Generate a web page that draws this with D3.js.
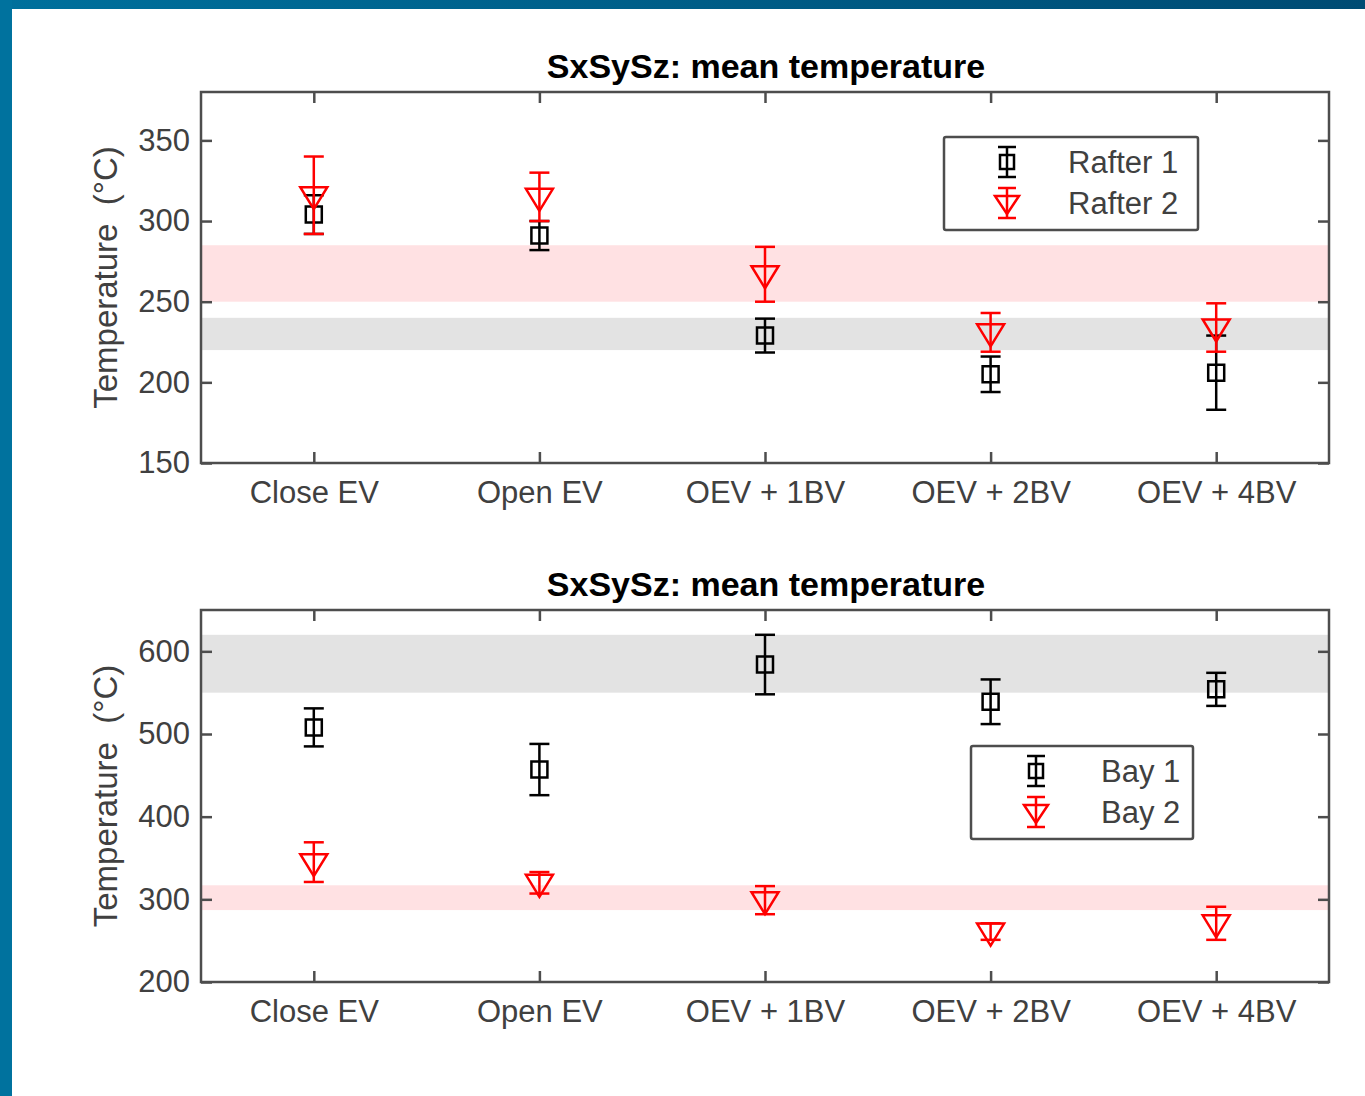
<!DOCTYPE html>
<html><head><meta charset="utf-8">
<script src="https://cdn.jsdelivr.net/npm/d3@7"></script>
<style>
html,body{margin:0;padding:0;background:#fff;}
svg{display:block;}
text{font-family:"Liberation Sans",Arial,sans-serif;}
</style></head>
<body>
<svg id="chart" width="1365" height="1096"></svg>
<script>
// ---------- data ----------
const categories = ["Close EV", "Open EV", "OEV + 1BV", "OEV + 2BV", "OEV + 4BV"];
const titleText = "SxSySz: mean temperature";
const yLabelText = "Temperature  (\u00B0C)";

const rafter1Mean = [304, 291, 229, 205, 206];
const rafter1Err  = [12, 9, 10.5, 11, 23];
const rafter2Mean = [316, 315, 267, 231, 234];
const rafter2Err  = [24, 15, 17, 12, 15];

const bay1Mean = [508, 457, 584, 539, 554];
const bay1Err  = [23, 31, 36, 27, 20];
const bay2Mean = [345, 320, 299, 261, 271];
const bay2Err  = [24, 13, 17, 10, 20];

const topTicks = [150, 200, 250, 300, 350];
const bottomTicks = [200, 300, 400, 500, 600];
const topBands = [{lo: 250, hi: 285, kind: "red"}, {lo: 220, hi: 240, kind: "black"}];
const bottomBands = [{lo: 550, hi: 620, kind: "black"}, {lo: 287, hi: 317, kind: "red"}];
const topLegend = ["Rafter 1", "Rafter 2"];
const bottomLegend = ["Bay 1", "Bay 2"];

// ---------- drawing ----------
const svg = d3.select("#chart");
const defs = svg.append("defs");
const grad = defs.append("linearGradient").attr("id", "bandGrad").attr("x1", "0").attr("x2", "1");
grad.append("stop").attr("offset", "0").attr("stop-color", "#00709c");
grad.append("stop").attr("offset", "1").attr("stop-color", "#004b73");
svg.append("rect").attr("x", 0).attr("y", 0).attr("width", 1365).attr("height", 9).attr("fill", "url(#bandGrad)");
svg.append("rect").attr("x", 0).attr("y", 0).attr("width", 12).attr("height", 1096).attr("fill", "#00729e");

const COLORS = {black: "#000000", red: "#ff0000"};
const BANDFILL = {black: "#e3e3e3", red: "#ffe1e3"};
const AXIS = "#4d4d4d";
const TXT = "#404040";
const FS = "31px";

function markerPath(kind) {
  if (kind === "black") return "M-8,-8H8V8H-8Z";
  return "M-13.5,-8H13.5L0,14Z";
}

function panel(cfg) {
  const x = d3.scaleLinear().domain([0.5, 5.5]).range([201, 1329]);
  const y = d3.scaleLinear().domain(cfg.domain).range([cfg.bottom, cfg.top]);
  const g = svg.append("g");

  // bands
  g.selectAll("rect.band").data(cfg.bands).join("rect")
    .attr("x", x(0.5)).attr("width", x(5.5) - x(0.5))
    .attr("y", d => y(d.hi)).attr("height", d => y(d.lo) - y(d.hi))
    .attr("fill", d => BANDFILL[d.kind]);

  // axes
  const fmt = i => categories[i - 1];
  const xb = g.append("g").attr("transform", `translate(0,${cfg.bottom})`)
    .call(d3.axisBottom(x).tickValues([1,2,3,4,5]).tickFormat(fmt).tickSizeInner(-11).tickSizeOuter(0).tickPadding(18));
  const xt = g.append("g").attr("transform", `translate(0,${cfg.top})`)
    .call(d3.axisTop(x).tickValues([1,2,3,4,5]).tickFormat("").tickSizeInner(-11).tickSizeOuter(0));
  const yl = g.append("g").attr("transform", `translate(201,0)`)
    .call(d3.axisLeft(y).tickValues(cfg.ticks).tickSizeInner(-11).tickSizeOuter(0).tickPadding(11));
  const yr = g.append("g").attr("transform", `translate(1329,0)`)
    .call(d3.axisRight(y).tickValues(cfg.ticks).tickFormat("").tickSizeInner(-11).tickSizeOuter(0));
  [xb, xt, yl, yr].forEach(a => {
    a.selectAll("path.domain").remove();
    a.selectAll("line").attr("stroke", AXIS).attr("stroke-width", 2.5);
    a.selectAll("text").attr("fill", TXT).style("font-size", FS).attr("font-family", null);
  });
  xb.selectAll("text").attr("dy", "0.71em");
  g.append("rect").attr("x", 201).attr("y", cfg.top).attr("width", 1128).attr("height", cfg.bottom - cfg.top)
    .attr("fill", "none").attr("stroke", AXIS).attr("stroke-width", 2.5);

  // title + y label
  svg.append("text").attr("x", 766).attr("y", cfg.top - 14).attr("text-anchor", "middle")
    .style("font-size", "34px").style("font-weight", "bold").attr("fill", "#000").text(titleText);
  svg.append("text").attr("transform", `translate(117,${(cfg.top + cfg.bottom) / 2}) rotate(-90)`)
    .attr("text-anchor", "middle").style("font-size", "33px").style("white-space", "pre")
    .attr("fill", TXT).text(yLabelText);

  // series
  cfg.series.forEach(s => {
    const data = s.mean.map((m, i) => ({i: i + 1, m, e: s.err[i]}));
    const sg = g.append("g").attr("stroke", COLORS[s.kind]).attr("stroke-width", 2.5).attr("fill", "none");
    const pts = sg.selectAll("g").data(data).join("g");
    pts.append("line").attr("x1", d => x(d.i)).attr("x2", d => x(d.i))
      .attr("y1", d => y(d.m + d.e)).attr("y2", d => y(d.m - d.e));
    pts.append("line").attr("x1", d => x(d.i) - 10).attr("x2", d => x(d.i) + 10)
      .attr("y1", d => y(d.m + d.e)).attr("y2", d => y(d.m + d.e));
    pts.append("line").attr("x1", d => x(d.i) - 10).attr("x2", d => x(d.i) + 10)
      .attr("y1", d => y(d.m - d.e)).attr("y2", d => y(d.m - d.e));
    pts.append("path").attr("d", markerPath(s.kind))
      .attr("transform", d => `translate(${x(d.i)},${y(d.m)})`);
  });

  // legend
  const L = cfg.legend;
  const lg = svg.append("g");
  lg.append("rect").attr("x", L.x0).attr("y", L.y0).attr("width", L.x1 - L.x0).attr("height", L.y1 - L.y0)
    .attr("fill", "#fff").attr("stroke", AXIS).attr("stroke-width", 2.5).attr("rx", 2);
  cfg.series.forEach((s, k) => {
    const cy = L.rows[k];
    const c = COLORS[s.kind];
    const mg = lg.append("g").attr("stroke", c).attr("stroke-width", 2.5).attr("fill", "none");
    mg.append("line").attr("x1", L.mx).attr("x2", L.mx).attr("y1", cy - 15).attr("y2", cy + 15);
    mg.append("line").attr("x1", L.mx - 9).attr("x2", L.mx + 9).attr("y1", cy - 15).attr("y2", cy - 15);
    mg.append("line").attr("x1", L.mx - 9).attr("x2", L.mx + 9).attr("y1", cy + 15).attr("y2", cy + 15);
    mg.append("path").attr("d", s.kind === "black" ? "M-7,-7H7V7H-7Z" : "M-12,-7H12L0,11Z")
      .attr("transform", `translate(${L.mx},${cy})`);
    lg.append("text").attr("x", L.tx).attr("y", cy).attr("dy", "0.36em")
      .style("font-size", FS).attr("fill", TXT).text(s.name);
  });
}

panel({
  top: 92, bottom: 463, domain: [150, 380], ticks: topTicks, bands: topBands,
  series: [
    {name: topLegend[0], kind: "black", mean: rafter1Mean, err: rafter1Err},
    {name: topLegend[1], kind: "red", mean: rafter2Mean, err: rafter2Err}
  ],
  legend: {x0: 944, x1: 1198, y0: 137, y1: 230, rows: [162, 203], mx: 1007, tx: 1068}
});

panel({
  top: 610, bottom: 982, domain: [200, 650], ticks: bottomTicks, bands: bottomBands,
  series: [
    {name: bottomLegend[0], kind: "black", mean: bay1Mean, err: bay1Err},
    {name: bottomLegend[1], kind: "red", mean: bay2Mean, err: bay2Err}
  ],
  legend: {x0: 971, x1: 1193, y0: 746, y1: 839, rows: [771, 812], mx: 1036, tx: 1101}
});
</script>
</body></html>
